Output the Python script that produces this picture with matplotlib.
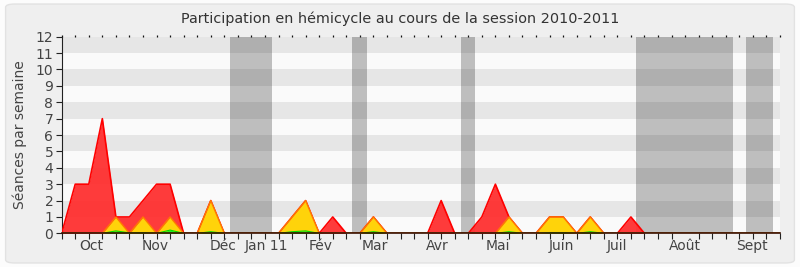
import matplotlib
matplotlib.use("Agg")
import matplotlib.pyplot as plt
from matplotlib.patches import FancyBboxPatch
import numpy as np

# semaines de la session (index 0..53)
weeks = np.arange(54)

# séances par semaine (total = rouge)
presence = [0, 3, 3, 7, 1, 1, 2, 3, 3, 0, 0, 2, 0, 0, 0, 0, 0, 1, 2, 0,
            1, 0, 0, 1, 0, 0, 0, 0, 2, 0, 0, 1, 3, 1, 0, 0, 1, 1, 0, 1,
            0, 0, 1, 0, 0, 0, 0, 0, 0, 0, 0, 0, 0, 0]
# interventions (jaune)
interventions = [0, 0, 0, 0, 1, 0, 1, 0, 1, 0, 0, 2, 0, 0, 0, 0, 0, 1, 2, 0,
                 0, 0, 0, 1, 0, 0, 0, 0, 0, 0, 0, 0, 0, 1, 0, 0, 1, 1, 0, 1,
                 0, 0, 0, 0, 0, 0, 0, 0, 0, 0, 0, 0, 0, 0]
# questions (vert)
questions = [0, 0, 0, 0, 0.15, 0.03, 0.05, 0, 0.2, 0, 0, 0.1, 0, 0, 0, 0, 0, 0.1, 0.15, 0,
             0, 0, 0, 0.1, 0, 0, 0, 0, 0, 0, 0, 0, 0, 0.1, 0, 0, 0.05, 0.05, 0, 0.1,
             0, 0, 0, 0, 0, 0, 0, 0, 0, 0, 0, 0, 0, 0]

# vacances parlementaires (en semaines)
vacances = [(12.4, 15.5), (21.4, 22.5), (29.45, 30.5), (42.4, 49.5), (50.5, 52.5)]

month_labels = ['Oct', 'Nov', 'Déc', 'Jan 11', 'Fév', 'Mar', 'Avr', 'Mai',
                'Juin', 'Juil', 'Août', 'Sept']
month_pos = [2.15, 6.9, 11.9, 15.1, 19.1, 23.1, 27.7, 32.15, 36.9, 40.95, 46.0, 50.95]

txt = '#444444'
plt.rcParams['font.family'] = ['DejaVu Sans']

fig = plt.figure(figsize=(8, 2.67), dpi=100)
fig.patch.set_facecolor('#fcfcfc')
fig.patches.append(FancyBboxPatch((0.007, 0.015), 0.986, 0.97,
                                  boxstyle='round,pad=0,rounding_size=0.012',
                                  transform=fig.transFigure, facecolor='#efefef',
                                  edgecolor='#e2e2e2', lw=1, zorder=-10))

ax = fig.add_axes([0.0771, 0.126, 0.8979, 0.7365])
ax.set_facecolor('#fafafa')

# bandes horizontales
for y in range(1, 12, 2):
    ax.axhspan(y, y + 1, color='#e6e6e6', lw=0, zorder=0)
# vacances
for a, b in vacances:
    ax.axvspan(a, b, color='black', alpha=0.24, lw=0, zorder=1)

ax.fill_between(weeks, presence, color='#ff3030', alpha=0.95, lw=0, zorder=2)
ax.plot(weeks, presence, color='#ff0000', lw=1.2, zorder=3)
ax.fill_between(weeks, interventions, color='#ffd30a', lw=0, zorder=4)
ax.plot(weeks, interventions, color='#ff7a00', lw=1.0, zorder=5)
ax.fill_between(weeks, questions, color='#22ee22', lw=0, zorder=6)
ax.plot(weeks, questions, color='#00dd00', lw=0.8, zorder=7)

ax.set_xlim(0, 53)
ax.set_ylim(0, 12)
ax.set_yticks(range(13))
ax.set_xticks(month_pos, month_labels)
ax.set_xticks(weeks, minor=True)
ax.tick_params(axis='x', which='major', length=0, pad=4, labelsize=10, labelcolor=txt)
ax.tick_params(axis='x', which='minor', length=4, width=0.8, color='#222222',
               direction='out')
ax.tick_params(axis='y', length=4, width=0.8, color='#222222', labelsize=10,
               labelcolor=txt, pad=2)

# petits repères en haut
sec = ax.secondary_xaxis('top')
sec.set_xticks(weeks, [''] * len(weeks))
sec.tick_params(length=1.2, width=0.9, color='#111111')
sec.spines['top'].set_visible(False)

for s in ['top', 'right']:
    ax.spines[s].set_visible(False)
ax.spines['left'].set_color('#222222')
ax.spines['bottom'].set_color('#3a1000')
ax.spines['bottom'].set_linewidth(1.2)
ax.spines['bottom'].set_zorder(8)

ax.set_ylabel('Séances par semaine', fontsize=10, color=txt, labelpad=6)
fig.text(0.5, 1 - 19 / 267, 'Participation en hémicycle au cours de la session 2010-2011',
         fontsize=10.4, color='#333333', ha='center', va='center')

fig.savefig('out.png', dpi=100, facecolor=fig.get_facecolor())
